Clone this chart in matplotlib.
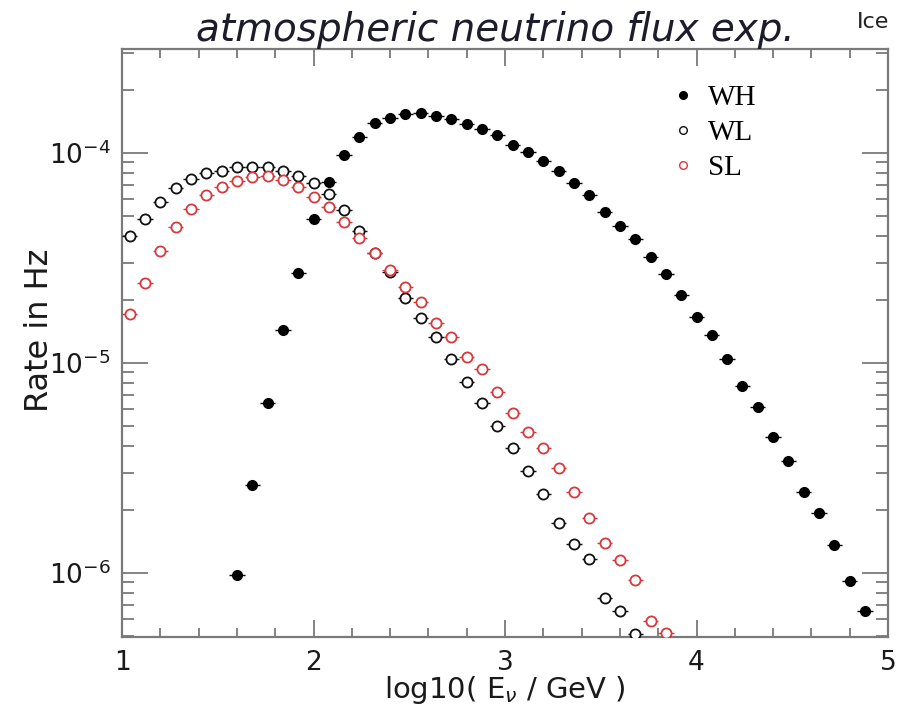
import numpy as np
import matplotlib
matplotlib.use("Agg")
import matplotlib.pyplot as plt
from matplotlib.lines import Line2D
from matplotlib.ticker import LogLocator, MultipleLocator, NullFormatter

# bin centres in log10(E/GeV), bin width 0.08
bin_width = 0.08
x_wh = [1.60, 1.68, 1.76, 1.84, 1.92, 2.00, 2.08, 2.16, 2.24, 2.32, 2.40, 2.48, 2.56, 2.64,
        2.72, 2.80, 2.88, 2.96, 3.04, 3.12, 3.20, 3.28, 3.36, 3.44, 3.52, 3.60, 3.68, 3.76,
        3.84, 3.92, 4.00, 4.08, 4.16, 4.24, 4.32, 4.40, 4.48, 4.56, 4.64, 4.72, 4.80, 4.88]
rate_wh = [9.77e-7, 2.62e-6, 6.46e-6, 1.44e-5, 2.69e-5, 4.85e-5, 7.28e-5, 9.77e-5, 1.19e-4,
           1.39e-4, 1.46e-4, 1.53e-4, 1.55e-4, 1.50e-4, 1.45e-4, 1.37e-4, 1.30e-4, 1.21e-4,
           1.09e-4, 1.01e-4, 9.16e-5, 8.20e-5, 7.19e-5, 6.31e-5, 5.24e-5, 4.49e-5, 3.89e-5,
           3.18e-5, 2.64e-5, 2.11e-5, 1.66e-5, 1.35e-5, 1.04e-5, 7.76e-6, 6.17e-6, 4.45e-6,
           3.40e-6, 2.43e-6, 1.93e-6, 1.35e-6, 9.16e-7, 6.59e-7]

x_wl = [1.04, 1.12, 1.20, 1.28, 1.36, 1.44, 1.52, 1.60, 1.68, 1.76, 1.84, 1.92, 2.00, 2.08,
        2.16, 2.24, 2.32, 2.40, 2.48, 2.56, 2.64, 2.72, 2.80, 2.88, 2.96, 3.04, 3.12, 3.20,
        3.28, 3.36, 3.44, 3.52, 3.60, 3.68]
rate_wl = [4.03e-5, 4.85e-5, 5.85e-5, 6.81e-5, 7.52e-5, 8.04e-5, 8.20e-5, 8.57e-5, 8.57e-5,
           8.57e-5, 8.20e-5, 7.76e-5, 7.19e-5, 6.38e-5, 5.36e-5, 4.26e-5, 3.34e-5, 2.71e-5,
           2.04e-5, 1.64e-5, 1.33e-5, 1.04e-5, 8.13e-6, 6.46e-6, 5.01e-6, 3.94e-6, 3.06e-6,
           2.38e-6, 1.73e-6, 1.37e-6, 1.17e-6, 7.60e-7, 6.59e-7, 5.13e-7]

x_sl = [1.04, 1.12, 1.20, 1.28, 1.36, 1.44, 1.52, 1.60, 1.68, 1.76, 1.84, 1.92, 2.00, 2.08,
        2.16, 2.24, 2.32, 2.40, 2.48, 2.56, 2.64, 2.72, 2.80, 2.88, 2.96, 3.04, 3.12, 3.20,
        3.28, 3.36, 3.44, 3.52, 3.60, 3.68, 3.76, 3.84]
rate_sl = [1.71e-5, 2.40e-5, 3.39e-5, 4.45e-5, 5.41e-5, 6.31e-5, 6.89e-5, 7.36e-5, 7.69e-5,
           7.76e-5, 7.43e-5, 6.89e-5, 6.17e-5, 5.53e-5, 4.69e-5, 3.94e-5, 3.34e-5, 2.77e-5,
           2.30e-5, 1.95e-5, 1.55e-5, 1.32e-5, 1.07e-5, 9.35e-6, 7.28e-6, 5.78e-6, 4.69e-6,
           3.94e-6, 3.16e-6, 2.43e-6, 1.83e-6, 1.39e-6, 1.15e-6, 9.27e-7, 5.90e-7, 5.18e-7]

red = "#d8383c"
axis_grey = "#7a7a7a"

fig = plt.figure(figsize=(8.99, 7.15), dpi=100)
ax = fig.add_axes([122/899, 78/715, 766/899, 588/715])

xe = bin_width / 2
ax.errorbar(x_wh, rate_wh, xerr=xe, fmt="o", color="black", ms=7, elinewidth=1.0,
            capsize=0, zorder=3)
ax.errorbar(x_wl, rate_wl, xerr=xe, fmt="o", color="#111111", mfc="white", mec="#111111",
            mew=1.3, ms=7.3, elinewidth=1.0, capsize=0, zorder=3)
ax.errorbar(x_sl, rate_sl, xerr=xe, fmt="o", color=red, mfc="white", mec=red,
            mew=1.3, ms=7.3, elinewidth=1.0, capsize=0, zorder=4)

ax.set_yscale("log")
ax.set_xlim(1, 5)
ax.set_ylim(4.95e-7, 3.12e-4)

ax.xaxis.set_major_locator(MultipleLocator(1))
ax.xaxis.set_minor_locator(MultipleLocator(0.2))
ax.yaxis.set_minor_locator(LogLocator(base=10, subs=np.arange(2, 10), numticks=20))
ax.yaxis.set_minor_formatter(NullFormatter())
ax.set_yticks([1e-6, 1e-5, 1e-4])
ax.set_yticklabels([r"$10^{-6}$", r"$10^{-5}$", r"$10^{-4}$"])

ax.tick_params(axis="both", which="both", direction="in", top=True, right=True,
               colors=axis_grey, labelcolor="#1a1a1a", width=1.3)
ax.tick_params(axis="x", which="major", length=12, labelsize=19, pad=9)
ax.tick_params(axis="x", which="minor", length=6.5)
ax.tick_params(axis="y", which="major", length=18.5, labelsize=19, pad=8)
ax.tick_params(axis="y", which="minor", length=8.5)
for s in ax.spines.values():
    s.set_color(axis_grey)
    s.set_linewidth(1.6)

fig.text(505/899, 1 - 690/715, r"log10( E$_{\nu}$ / GeV )", ha="center", va="center",
         fontsize=21, color="#1a1a1a")
fig.text(40/899, 1 - 330/715, "Rate in Hz", rotation=90, ha="center", va="center",
         fontsize=23, color="#1a1a1a")
fig.text(495/899, 1 - 30/715, "atmospheric neutrino flux exp.", ha="center", va="center",
         fontsize=28, style="italic", color="#1c1c2a")
fig.text(857/899, 1 - 22/715, "Ice", ha="left", va="center", fontsize=16, color="#222222")

handles = [
    Line2D([], [], ls="none", marker="o", color="black", ms=5.5),
    Line2D([], [], ls="none", marker="o", mfc="white", mec="#111111", mew=1.0, ms=5.5),
    Line2D([], [], ls="none", marker="o", mfc="white", mec=red, mew=1.0, ms=5.5),
]
leg = fig.legend(handles, ["WH", "WL", "SL"], loc="upper left",
                 bbox_to_anchor=(654/899, 1 - 70/715), frameon=False,
                 prop={"family": "Liberation Serif", "size": 21},
                 handlelength=1.0, handletextpad=0.36, borderpad=0, labelspacing=0.3)

fig.savefig("out.png", dpi=100)
